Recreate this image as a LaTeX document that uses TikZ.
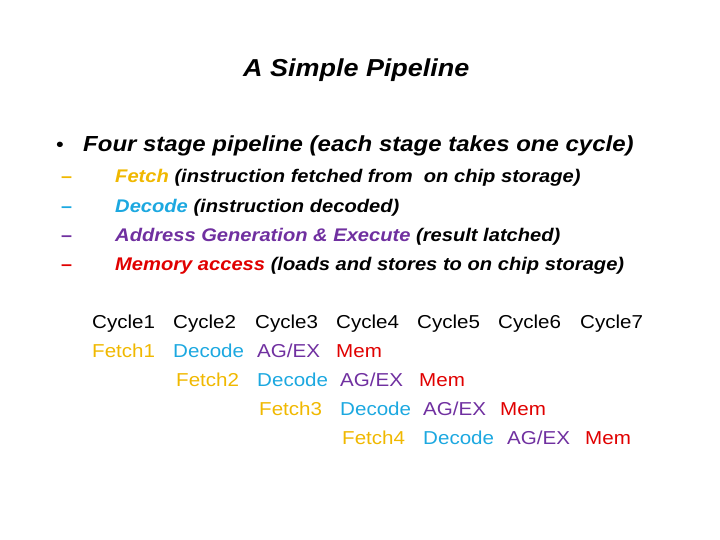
\documentclass[tikz,border=0pt]{standalone}
\usepackage{fontspec}
\setmainfont{Liberation Sans}
\definecolor{fetchc}{HTML}{F0B800}
\definecolor{decodec}{HTML}{1CA8E0}
\definecolor{agexc}{HTML}{7030A0}
\definecolor{memc}{HTML}{E00000}
\tikzset{txt/.style={anchor=base west,inner sep=0pt,xscale=1.1},
  sub/.style={txt,font=\fontsize{18.3}{20}\selectfont\bfseries\itshape},
  cell/.style={txt,font=\fontsize{18.7}{20}\selectfont}}
\begin{document}
\begin{tikzpicture}[x=1pt,y=-1pt]
		\useasboundingbox (0,0) rectangle (720,540);
		\node[txt,font=\fontsize{24.5}{28}\selectfont\bfseries\itshape] (title) at (243,77) {A Simple Pipeline};
		\node[txt,font=\fontsize{20}{24}\selectfont] (dot) at (56,152) {\textbullet};
		\node[txt,font=\fontsize{21.8}{24}\selectfont\bfseries\itshape] (bullet) at (83,152) {Four stage pipeline (each stage takes one cycle)};
		
		\foreach \y/\c [count=\i] in {183/fetchc,212/decodec,241/agexc,270/memc}
			\node[txt,font=\fontsize{18}{20}\selectfont\bfseries,text=\c] (dash\i) at (61,\y) {–};
		\node[sub] (s1) at (115,183) {\textcolor{fetchc}{Fetch} (instruction fetched from\ \ on chip storage)};
		\node[sub] (s2) at (115,212) {\textcolor{decodec}{Decode} (instruction decoded)};
		\node[sub] (s3) at (115,241) {\textcolor{agexc}{Address Generation \& Execute} (result latched)};
		\node[sub] (s4) at (115,270) {\textcolor{memc}{Memory access} (loads and stores to on chip storage)};
		
		\foreach \x [count=\i] in {92,173,255,336,417,498,580}
			\node[cell] (c\i) at (\x,328) {Cycle\i};
		
		\node[cell,text=fetchc] (f1) at (92,357) {Fetch1};
		\node[cell,text=decodec] (d1) at (173,357) {Decode};
		\node[cell,text=agexc] (a1) at (257,357) {AG/EX};
		\node[cell,text=memc] (m1) at (336,357) {Mem};
		
		\node[cell,text=fetchc] (f2) at (176,386) {Fetch2};
		\node[cell,text=decodec] (d2) at (257,386) {Decode};
		\node[cell,text=agexc] (a2) at (340,386) {AG/EX};
		\node[cell,text=memc] (m2) at (419,386) {Mem};
		
		\node[cell,text=fetchc] (f3) at (259,415) {Fetch3};
		\node[cell,text=decodec] (d3) at (340,415) {Decode};
		\node[cell,text=agexc] (a3) at (423,415) {AG/EX};
		\node[cell,text=memc] (m3) at (500,415) {Mem};
		
		\node[cell,text=fetchc] (f4) at (342,444) {Fetch4};
		\node[cell,text=decodec] (d4) at (423,444) {Decode};
		\node[cell,text=agexc] (a4) at (507,444) {AG/EX};
		\node[cell,text=memc] (m4) at (585,444) {Mem};
	\end{tikzpicture}
\end{document}
